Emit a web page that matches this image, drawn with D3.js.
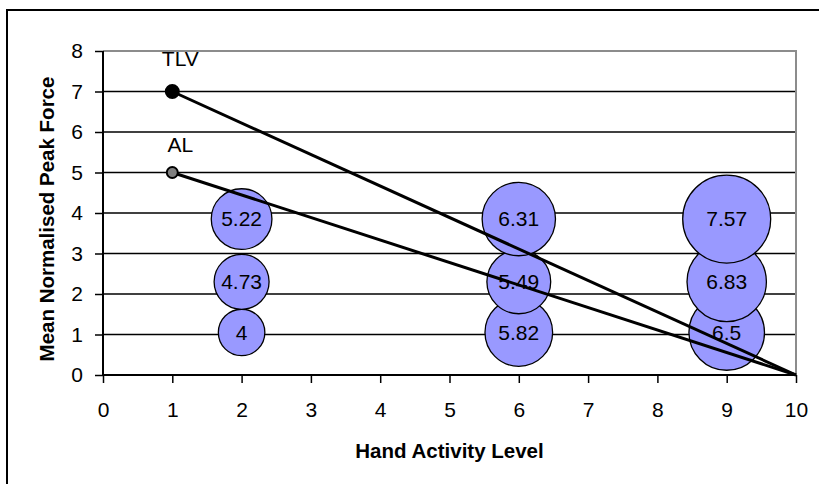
<!DOCTYPE html>
<html>
<head>
<meta charset="utf-8">
<script src="https://cdn.jsdelivr.net/npm/d3@7"></script>
<style>
  html, body { margin: 0; padding: 0; background: #fff; }
  svg { display: block; font-family: Arial, "Liberation Sans", sans-serif; }
</style>
</head>
<body>
<svg id="chart" width="819" height="484"></svg>
<script>
// Bubble groups: hand activity level, force level, and bubble size (shown as label)
const bubbleX = [2, 2, 2, 6, 6, 6, 9, 9, 9];
const bubbleY = [1.05, 2.3, 3.85, 1.05, 2.3, 3.85, 1.05, 2.3, 3.85];
const bubbleSize = [4, 4.73, 5.22, 5.82, 5.49, 6.31, 6.5, 6.83, 7.57];

// Limit lines: start at HAL 1, end at HAL 10 with zero force
const limitNames = ["TLV", "AL"];
const limitStart = [7, 5];
const limitEndX = 10;
const limitEndY = 0;

const xTicks = [0, 1, 2, 3, 4, 5, 6, 7, 8, 9, 10];
const yTicks = [0, 1, 2, 3, 4, 5, 6, 7, 8];

const svg = d3.select("#chart");
const plotLeft = 103, plotRight = 796, plotTop = 51, plotBottom = 375;

const x = d3.scaleLinear().domain([0, 10]).range([plotLeft, plotRight]);
const y = d3.scaleLinear().domain([0, 8]).range([plotBottom, plotTop]);
const r = d3.scaleLinear().domain([0, d3.max(bubbleSize)]).range([0, 44]);

// Outer chart frame
svg.append("rect")
  .attr("x", 7).attr("y", 10).attr("width", 830).attr("height", 500)
  .attr("fill", "none").attr("stroke", "#000").attr("stroke-width", 2);

// Horizontal gridlines
svg.append("g").selectAll("line").data(yTicks.filter(d => d > 0 && d < 8)).join("line")
  .attr("x1", plotLeft).attr("x2", plotRight)
  .attr("y1", d => y(d)).attr("y2", d => y(d))
  .attr("stroke", "#000").attr("stroke-width", 1.3);

// Plot area border (top and right)
svg.append("path")
  .attr("d", `M${plotLeft},${y(8)}H${plotRight}V${plotBottom}`)
  .attr("fill", "none").attr("stroke", "#8c8c8c").attr("stroke-width", 2);

// Bubbles
const bubbles = bubbleX.map((v, i) => ({ x: v, y: bubbleY[i], s: bubbleSize[i] }));
svg.append("g").selectAll("circle").data(bubbles).join("circle")
  .attr("cx", d => x(d.x)).attr("cy", d => y(d.y)).attr("r", d => r(d.s))
  .attr("fill", "#9999ff").attr("stroke", "#000").attr("stroke-width", 1.3);

// Axes
const yAxis = d3.axisLeft(y).tickValues(yTicks).tickSize(8).tickPadding(12).tickFormat(d3.format("d"));
const gy = svg.append("g").attr("transform", `translate(${plotLeft},0)`).call(yAxis);
const xAxis = d3.axisBottom(x).tickValues(xTicks).tickSize(8).tickPadding(19).tickFormat(d3.format("d"));
const gx = svg.append("g").attr("transform", `translate(0,${plotBottom})`).call(xAxis);
[gx, gy].forEach(g => {
  g.select(".domain").attr("stroke", "#000").attr("stroke-width", 2);
  g.selectAll(".tick line").attr("stroke", "#000").attr("stroke-width", 1.5);
  g.selectAll(".tick text").attr("fill", "#000").attr("font-size", 21)
    .attr("font-family", "Arial, 'Liberation Sans', sans-serif");
});
gx.select(".domain").attr("d", `M${plotLeft},0H${plotRight}`);
gy.select(".domain").attr("d", `M0,${plotBottom}V${plotTop}`);

// Limit lines
const limits = limitNames.map((n, i) => ({ name: n, y0: limitStart[i] }));
const line = d3.line().x(d => x(d[0])).y(d => y(d[1]));
svg.append("g").selectAll("path").data(limits).join("path")
  .attr("d", d => line([[1, d.y0], [limitEndX, limitEndY]]))
  .attr("fill", "none").attr("stroke", "#000").attr("stroke-width", 3);

// Limit markers
svg.append("g").selectAll("circle").data(limits).join("circle")
  .attr("cx", x(1)).attr("cy", d => y(d.y0))
  .attr("r", (d, i) => i === 0 ? 6.5 : 5.5)
  .attr("fill", (d, i) => i === 0 ? "#000" : "#808080")
  .attr("stroke", "#000").attr("stroke-width", 2);

// Limit names
const nameOffset = [-26, -21];
svg.append("g").selectAll("text").data(limits).join("text")
  .attr("x", x(1) + 8).attr("y", (d, i) => y(d.y0) + nameOffset[i])
  .attr("text-anchor", "middle").attr("font-size", 21).attr("fill", "#000")
  .text(d => d.name);

// Bubble labels
svg.append("g").selectAll("text").data(bubbles).join("text")
  .attr("x", d => x(d.x)).attr("y", d => y(d.y))
  .attr("dy", "0.35em").attr("text-anchor", "middle")
  .attr("font-size", 21).attr("fill", "#000")
  .text(d => d.s);

// Axis titles
svg.append("text")
  .attr("x", (plotLeft + plotRight) / 2).attr("y", 458)
  .attr("text-anchor", "middle").attr("font-size", 20.5).attr("font-weight", "bold")
  .text("Hand Activity Level");
svg.append("text")
  .attr("transform", `translate(54,${(plotTop + plotBottom) / 2 + 6}) rotate(-90)`)
  .attr("text-anchor", "middle").attr("font-size", 20.5).attr("font-weight", "bold")
  .text("Mean Normalised Peak Force");
</script>
</body>
</html>
